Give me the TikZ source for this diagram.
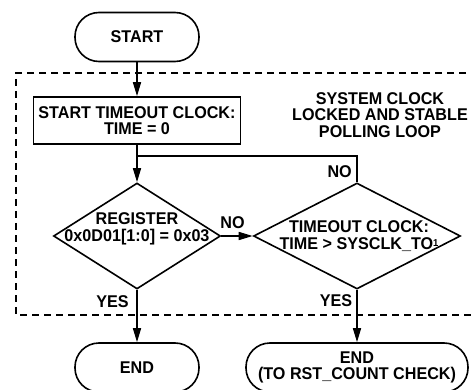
\documentclass[tikz,border=0pt]{standalone}
\usepackage{fontspec}
\setmainfont{Liberation Sans}[FakeStretch=0.95]
\usetikzlibrary{shapes.geometric,arrows.meta}
\begin{document}
\begin{tikzpicture}[x=1pt,y=-1pt,
  every node/.style={font=\bfseries\fontsize{17}{16.5}\selectfont, align=center, inner sep=0pt},
  line/.style={line width=1.6pt},
  arr/.style={line, -{Triangle[length=14pt,width=8pt]}},
  term/.style={draw, line, rectangle, rounded corners=24pt, minimum height=49pt},
  proc/.style={draw, line, rectangle, minimum width=207pt, minimum height=47pt},
  dec/.style={draw, line, diamond, minimum height=106pt}]
\clip (0,0) rectangle (471,390);
\draw[line width=1.4pt, dash pattern=on 7pt off 5pt] (490,73) -- (16,73) -- (16,315) -- (490,315);
\node[term, minimum width=124pt] (start) at (137,37) {START};
\node[proc] (clk) at (137,120.5) {START TIMEOUT CLOCK:\\TIME = 0};
\node[dec, minimum width=167pt] (d1) at (137,236) {};
\node (d1t) at (137,229) {REGISTER\\0x0D01[1:0] = 0x03};
\node[dec, minimum width=207pt] (d2) at (357,236) {};
\node (d2t) at (359,236) {TIMEOUT CLOCK:\\TIME > SYSCLK\_TO\raisebox{3pt}{\fontsize{10}{10}\selectfont 1}};
\node (sys) at (380,115) {SYSTEM CLOCK\\LOCKED AND STABLE\\POLLING LOOP};
\node[term, minimum width=124pt] (end1) at (137,367.5) {END};
\node[term, minimum width=222pt] (end2) at (357,367.5) {END\\(TO RST\_COUNT CHECK)};
\coordinate (j) at (137,156);
\draw[arr] (start) -- (clk);
\draw[arr] (clk) -- (d1);
\draw[line] (d2.north) |- (j);
\draw[arr] (d1.east) -- (d2.west);
\draw[arr] (d1) -- (end1);
\draw[arr] (d2) -- (end2);
\node[anchor=east] (no1) at (352,172) {NO};
\node (no2) at (232.5,223) {NO};
\node (yes1) at (112.5,302) {YES};
\node (yes2) at (336,301) {YES};
\end{tikzpicture}
\end{document}
